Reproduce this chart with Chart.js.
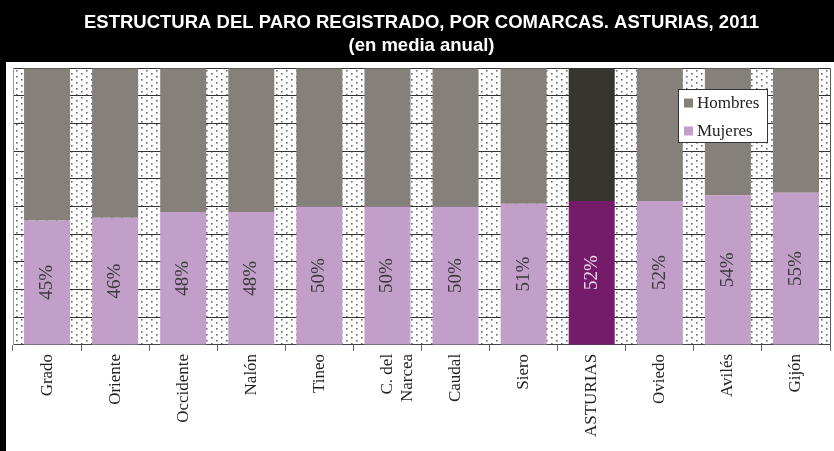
<!DOCTYPE html>
<html>
<head>
<meta charset="utf-8">
<script src="https://cdn.jsdelivr.net/npm/chart.js@4.4.1/dist/chart.umd.min.js"></script>
<style>
html,body{margin:0;padding:0;background:#fff;}
#wrap{width:834px;height:451px;position:relative;}
</style>
</head>
<body>
<div id="wrap"><canvas id="c" width="834" height="451"></canvas></div>
<script>
// ---- data ----
const categorias = ['Grado','Oriente','Occidente','Nalón','Tineo',['C. del','Narcea'],'Caudal','Siero','ASTURIAS','Oviedo','Avilés','Gijón'];
const mujeres = [45,46,48,48,50,50,50,51,52,52,54,55];
const hombres = [55,54,52,52,50,50,50,49,48,48,46,45];
const serieNombres = ['Hombres','Mujeres'];
const titulo = ['ESTRUCTURA DEL PARO REGISTRADO, POR COMARCAS. ASTURIAS, 2011','(en media anual)'];
const destacado = 'ASTURIAS';

// ---- styles ----
const colH = '#858079', colM = '#c19fc9';
const colHd = '#363530', colMd = '#741c6a';
const isDest = categorias.map(c => c === destacado);
const serif = "'Liberation Serif','Times New Roman',serif";

function makePattern(ctx){
  const t = document.createElement('canvas');
  t.width = 10; t.height = 6;
  const g = t.getContext('2d');
  g.fillStyle = '#fff'; g.fillRect(0,0,10,6);
  g.fillStyle = '#6a6a6a';
  g.fillRect(1,1,1.6,1.6);
  g.fillRect(6,4,1.6,1.6);
  return ctx.createPattern(t,'repeat');
}

const frame = {
  id:'frame',
  beforeDraw(chart){
    const ctx = chart.ctx, a = chart.chartArea;
    ctx.save();
    ctx.fillStyle = '#fff'; ctx.fillRect(0,0,chart.width,chart.height);
    ctx.fillStyle = '#000';
    ctx.fillRect(0,0,chart.width,62);
    ctx.fillRect(0,0,6,chart.height);
    ctx.fillStyle = makePattern(ctx);
    ctx.fillRect(a.left,a.top,a.right-a.left,a.bottom-a.top);
    ctx.restore();
  },
  afterDatasetsDraw(chart){
    const ctx = chart.ctx, a = chart.chartArea;
    ctx.save();
    ctx.strokeStyle = '#555'; ctx.lineWidth = 1;
    ctx.beginPath(); ctx.moveTo(a.right+0.5,a.top); ctx.lineTo(a.right+0.5,a.bottom); ctx.stroke();
    // data labels on Mujeres
    const meta = chart.getDatasetMeta(0);
    ctx.font = '19px ' + serif;
    ctx.textAlign = 'center'; ctx.textBaseline = 'middle';
    meta.data.forEach((bar,i) => {
      const y = (bar.y + bar.base)/2;
      ctx.save();
      ctx.translate(bar.x, y);
      ctx.rotate(-Math.PI/2);
      ctx.fillStyle = isDest[i] ? '#ead8ea' : '#3a3a3a';
      ctx.fillText(Math.round(mujeres[i]) + '%', 0, 0);
      ctx.restore();
    });
    // legend
    const lx = 678, ly = 89, lw = 89, lh = 53;
    ctx.fillStyle = '#fff'; ctx.fillRect(lx,ly,lw,lh);
    ctx.strokeStyle = '#333'; ctx.lineWidth = 1;
    ctx.strokeRect(lx+0.5,ly+0.5,lw,lh);
    const items = [[serieNombres[0],colH],[serieNombres[1],colM]];
    ctx.font = '17px ' + serif; ctx.textAlign = 'left'; ctx.textBaseline = 'middle';
    items.forEach((it,k) => {
      const cy = ly + 14 + k*28;
      ctx.fillStyle = it[1]; ctx.fillRect(lx+6, cy-4.5, 9, 9);
      ctx.fillStyle = '#222'; ctx.fillText(it[0], lx+19, cy+1);
    });
    ctx.restore();
  }
};

new Chart(document.getElementById('c'), {
  type:'bar',
  data:{
    labels: categorias,
    datasets:[
      {label: serieNombres[1], data: mujeres, backgroundColor: isDest.map(d => d ? colMd : colM), borderWidth:0},
      {label: serieNombres[0], data: hombres, backgroundColor: isDest.map(d => d ? colHd : colH), borderWidth:0}
    ]
  },
  options:{
    responsive:false,
    animation:false,
    devicePixelRatio:1,
    layout:{padding:{left:13,right:4,top:0,bottom:11}},
    datasets:{bar:{categoryPercentage:1, barPercentage:0.676}},
    plugins:{
      legend:{display:false},
      tooltip:{enabled:false},
      title:{
        display:true, text: titulo, color:'#fff',
        font:{family:"'Liberation Sans',Arial,sans-serif", size:18.5, weight:'bold', lineHeight:1.25},
        padding:{top:11,bottom:11}
      }
    },
    scales:{
      x:{
        stacked:true,
        grid:{display:true, drawOnChartArea:false, drawTicks:true, tickLength:6, color:'#666', offset:true},
        border:{display:true, color:'#444'},
        ticks:{color:'#222', font:{family:serif, size:17}, minRotation:90, maxRotation:90, padding:3, autoSkip:false}
      },
      y:{
        stacked:true, min:0, max:100,
        ticks:{display:false, stepSize:10},
        grid:{color:'#333', lineWidth:1, drawTicks:false},
        border:{display:true, color:'#999'}
      }
    }
  },
  plugins:[frame]
});
</script>
</body>
</html>
